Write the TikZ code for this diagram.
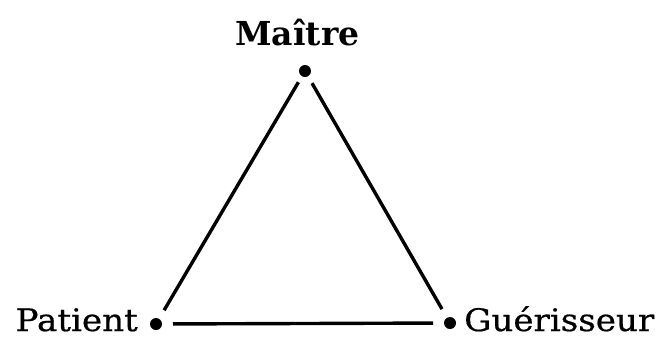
\documentclass[tikz,border=0pt]{standalone}
\usepackage{fontspec}
\setmainfont{DejaVu Serif}
\newfontfamily\lblfont{DejaVu Serif}[FakeStretch=1.1,FakeBold=0.6]
\begin{document}
\begin{tikzpicture}[x=1pt,y=-1pt,
  dot/.style={circle,fill=black,inner sep=0pt,minimum size=12pt},
  lbl/.style={inner sep=0pt,font=\lblfont\fontsize{31}{36}\selectfont},
  edge/.style={line width=3.4pt}]
\useasboundingbox (0,0) rectangle (659,338);
\node[dot] (M) at (305,71) {};
\node[dot] (P) at (156,324) {};
\node[dot] (G) at (450,323) {};
\node[lbl,anchor=base,font=\fontsize{33}{40}\selectfont\bfseries] (tM) at (297.5,45) {Maître};
\node[lbl,anchor=base east] (tP) at (138,331) {Patient};
\node[lbl,anchor=base west] (tG) at (464,331) {Guérisseur};
\draw[edge,shorten <=13pt,shorten >=16pt] (M.center) -- (P.center);
\draw[edge,shorten <=14pt,shorten >=16pt] (M.center) -- (G.center);
\draw[edge,shorten <=17pt,shorten >=17pt] (P.center) -- (G.center);
\end{tikzpicture}
\end{document}
